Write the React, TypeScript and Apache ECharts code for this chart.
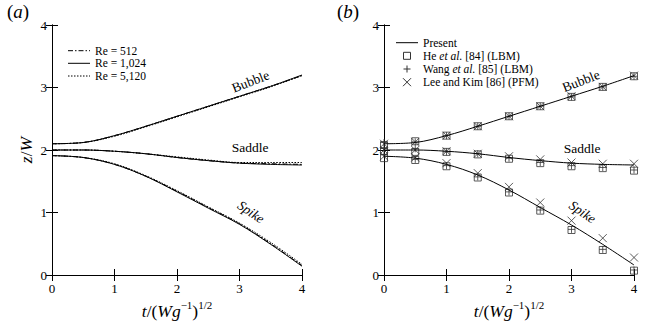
import React, { useEffect, useRef } from "react";
import * as echarts from "echarts";

const times = [0, 0.5, 1, 1.5, 2, 2.5, 3, 3.5, 4];
const xTicks = [0, 1, 2, 3, 4];

// Panel (a): three Reynolds numbers
const bubble512 = [2.1, 2.12, 2.23, 2.38, 2.54, 2.7, 2.86, 3.02, 3.19];
const bubble1024 = [2.1, 2.12, 2.23, 2.38, 2.54, 2.7, 2.86, 3.02, 3.2];
const bubble5120 = [2.1, 2.12, 2.22, 2.37, 2.53, 2.69, 2.85, 3.01, 3.19];
const saddle512 = [2.0, 2.0, 1.98, 1.94, 1.88, 1.83, 1.79, 1.78, 1.77];
const saddle1024 = [2.0, 2.0, 1.98, 1.94, 1.88, 1.83, 1.79, 1.77, 1.76];
const saddle5120 = [2.0, 2.0, 1.98, 1.94, 1.89, 1.84, 1.8, 1.8, 1.8];
const spike512 = [1.91, 1.88, 1.77, 1.58, 1.34, 1.08, 0.82, 0.5, 0.15];
const spike1024 = [1.91, 1.88, 1.77, 1.58, 1.33, 1.07, 0.81, 0.49, 0.14];
const spike5120 = [1.91, 1.88, 1.78, 1.59, 1.35, 1.09, 0.83, 0.52, 0.17];

// Panel (b): present vs literature
const presentBubble = [2.1, 2.12, 2.23, 2.38, 2.54, 2.7, 2.86, 3.02, 3.19];
const presentSaddle = [2.0, 2.0, 1.98, 1.94, 1.88, 1.83, 1.79, 1.77, 1.76];
const presentSpike = [1.9, 1.87, 1.77, 1.6, 1.36, 1.08, 0.8, 0.49, 0.16];

const heBubble = [2.08, 2.14, 2.23, 2.38, 2.54, 2.7, 2.85, 3.01, 3.18];
const heSaddle = [1.98, 1.97, 1.97, 1.93, 1.86, 1.79, 1.74, 1.71, 1.67];
const heSpike = [1.87, 1.84, 1.74, 1.56, 1.32, 1.03, 0.72, 0.4, 0.07];

const wangBubble = [2.12, 2.13, 2.23, 2.38, 2.54, 2.7, 2.85, 3.01, 3.18];
const wangSaddle = [2.03, 2.02, 1.97, 1.94, 1.87, 1.8, 1.75, 1.72, 1.68];
const wangSpike = [1.93, 1.85, 1.75, 1.57, 1.33, 1.04, 0.73, 0.41, 0.08];

const leeBubble = [2.1, 2.13, 2.23, 2.38, 2.54, 2.7, 2.86, 3.01, 3.19];
const leeSaddle = [2.0, 2.0, 1.98, 1.94, 1.9, 1.85, 1.8, 1.78, 1.78];
const leeSpike = [1.9, 1.88, 1.79, 1.63, 1.41, 1.16, 0.87, 0.59, 0.28];

const legendA = ["Re = 512", "Re = 1,024", "Re = 5,120"];
const legendB = ["Present", "He et al. [84] (LBM)", "Wang et al. [85] (LBM)", "Lee and Kim [86] (PFM)"];

const SERIF = "Liberation Serif";
const DASH_DOT = [5, 2, 1.5, 2];
const DOTTED = [1.5, 1.5];
const MARK = "#333";

const pairs = (ys: number[]) => times.map((t, i) => [t, ys[i]]);

export default function App() {
  const ref = useRef<HTMLDivElement>(null);
  useEffect(() => {
    if (!ref.current) return;
    const chart = echarts.init(ref.current, undefined, { renderer: "svg" });

    const rich = {
      i: { fontStyle: "italic", fontFamily: SERIF, fontSize: 17.5, color: "#000", lineHeight: 20, verticalAlign: "bottom" },
      n: { fontFamily: SERIF, fontSize: 17.5, color: "#000", lineHeight: 20, verticalAlign: "bottom" },
      sup: { fontFamily: SERIF, fontSize: 11, color: "#000", verticalAlign: "top", lineHeight: 11 },
    };
    const tickRich = { d: { fontFamily: SERIF, fontSize: 13, color: "#000" } };

    const mkX = (gridIndex: number, pos: "bottom" | "top", labels: boolean, name?: boolean) => ({
      type: "value",
      gridIndex,
      position: pos,
      min: 0,
      max: 4,
      interval: 1,
      axisLine: { show: true, lineStyle: { color: "#000", width: 1 } },
      axisTick: { show: true, inside: true, length: 6, lineStyle: { color: "#000" } },
      splitLine: { show: false },
      axisLabel: {
        show: labels,
        fontFamily: SERIF,
        fontSize: 13,
        color: "#000",
        margin: 7,
        rich: tickRich,
        formatter: (v: number) => (xTicks.includes(v) ? "{d|" + v + "}" : ""),
      },
      name: name ? "{i|t}{n|/(}{i|Wg}{sup|−1}{n|)}{sup|1/2}" : "",
      nameLocation: "middle",
      nameGap: 22,
      nameTextStyle: { rich },
    });
    const mkY = (gridIndex: number, pos: "left" | "right", labels: boolean, name?: boolean) => ({
      type: "value",
      gridIndex,
      position: pos,
      min: 0,
      max: 4,
      interval: 1,
      axisLine: { show: true, lineStyle: { color: "#000", width: 1 } },
      axisTick: { show: true, inside: true, length: 6, lineStyle: { color: "#000" } },
      splitLine: { show: false },
      axisLabel: {
        show: labels,
        fontFamily: SERIF,
        fontSize: 13,
        color: "#000",
        margin: 5,
        rich: tickRich,
        formatter: (v: number) => "{d|" + v + "}",
      },
      name: name ? "{i|z}{n|/}{i|W}" : "",
      nameLocation: "middle",
      nameGap: 17,
      nameTextStyle: { rich },
    });

    const lineSeries = (name: string, ys: number[], x: number, y: number, type: any) => ({
      type: "line",
      name,
      xAxisIndex: x,
      yAxisIndex: y,
      data: pairs(ys),
      smooth: 0.35,
      symbol: "none",
      lineStyle: { color: "#000", width: 1, type },
      itemStyle: { color: "#000" },
    });

    const markerStyle = { color: "rgba(0,0,0,0)", borderColor: MARK, borderWidth: 1 };
    const scatterSeries = (name: string, sets: number[][], symbol: string, size: number) => ({
      type: "scatter",
      name,
      xAxisIndex: 2,
      yAxisIndex: 2,
      symbol,
      symbolSize: size,
      itemStyle: markerStyle,
      data: sets.flatMap((ys) => pairs(ys)),
    });

    const labelText = (x: number, y: number, text: string, rotation: number, italic: boolean) => ({
      type: "text",
      x,
      y,
      rotation,
      style: {
        text: "{l|" + text + "}",
        fill: "#000",
        fontFamily: SERIF,
        fontSize: 13.5,
        align: "center",
        verticalAlign: "middle",
        rich: {
          l: { fontFamily: SERIF, fontSize: 13.5, fontStyle: italic ? "italic" : "normal", fill: "#000" },
        },
      },
    });

    const legText = (x: number, y: number, text: string) => ({
      type: "text",
      x,
      y,
      style: {
        text: text.replace("et al.", "{it|et al.}"),
        fill: "#000",
        fontFamily: SERIF,
        fontSize: 11.5,
        align: "left",
        verticalAlign: "middle",
        rich: { it: { fontFamily: SERIF, fontSize: 11.5, fontStyle: "italic", fill: "#000" } },
      },
    });
    const legLine = (x1: number, x2: number, y: number, dash: any) => ({
      type: "line",
      shape: { x1, y1: y, x2, y2: y },
      style: { stroke: "#000", lineWidth: 1, lineDash: dash },
    });

    const legendGraphics: any[] = [];
    const rowsA = [50.7, 63.3, 76];
    const dashes = [DASH_DOT, null, DOTTED];
    legendA.forEach((n, i) => {
      legendGraphics.push(legLine(68, 90, rowsA[i], dashes[i]));
      legendGraphics.push(legText(95, rowsA[i], n));
    });
    const rowsB = [42.7, 55.8, 69, 82.2];
    const cx = 407;
    legendGraphics.push(legLine(396, 418, rowsB[0], null));
    legendGraphics.push({
      type: "rect",
      shape: { x: cx - 3.5, y: rowsB[1] - 3.5, width: 7, height: 7 },
      style: { fill: "none", stroke: MARK, lineWidth: 1 },
    });
    legendGraphics.push({
      type: "line",
      shape: { x1: cx - 3.5, y1: rowsB[2], x2: cx + 3.5, y2: rowsB[2] },
      style: { stroke: MARK, lineWidth: 1 },
    });
    legendGraphics.push({
      type: "line",
      shape: { x1: cx, y1: rowsB[2] - 3.5, x2: cx, y2: rowsB[2] + 3.5 },
      style: { stroke: MARK, lineWidth: 1 },
    });
    legendGraphics.push({
      type: "line",
      shape: { x1: cx - 4, y1: rowsB[3] - 4, x2: cx + 4, y2: rowsB[3] + 4 },
      style: { stroke: MARK, lineWidth: 1 },
    });
    legendGraphics.push({
      type: "line",
      shape: { x1: cx + 4, y1: rowsB[3] - 4, x2: cx - 4, y2: rowsB[3] + 4 },
      style: { stroke: MARK, lineWidth: 1 },
    });
    legendB.forEach((n, i) => legendGraphics.push(legText(423, rowsB[i], n)));

    const panelLabel = (left: number, letter: string) => ({
      type: "text",
      left,
      top: 2,
      style: {
        text: "{p|(}{ai|" + letter + "}{p|)}",
        fill: "#000",
        fontFamily: SERIF,
        fontSize: 19,
        rich: {
          p: { fontFamily: SERIF, fontSize: 19, fill: "#000" },
          ai: { fontFamily: SERIF, fontSize: 19, fontStyle: "italic", fill: "#000" },
        },
      },
    });

    chart.setOption({
      animation: false,
      grid: [
        { left: 52, top: 25, width: 250, height: 250 },
        { left: 384, top: 25, width: 250, height: 250 },
      ],
      xAxis: [mkX(0, "bottom", true, true), mkX(0, "top", false), mkX(1, "bottom", true, true), mkX(1, "top", false)],
      yAxis: [mkY(0, "left", true, true), mkY(0, "right", false), mkY(1, "left", true), mkY(1, "right", false)],
      series: [
        lineSeries(legendA[0], bubble512, 0, 0, DASH_DOT),
        lineSeries(legendA[0], saddle512, 0, 0, DASH_DOT),
        lineSeries(legendA[0], spike512, 0, 0, DASH_DOT),
        lineSeries(legendA[1], bubble1024, 0, 0, "solid"),
        lineSeries(legendA[1], saddle1024, 0, 0, "solid"),
        lineSeries(legendA[1], spike1024, 0, 0, "solid"),
        lineSeries(legendA[2], bubble5120, 0, 0, DOTTED),
        lineSeries(legendA[2], saddle5120, 0, 0, DOTTED),
        lineSeries(legendA[2], spike5120, 0, 0, DOTTED),
        lineSeries(legendB[0], presentBubble, 2, 2, "solid"),
        lineSeries(legendB[0], presentSaddle, 2, 2, "solid"),
        lineSeries(legendB[0], presentSpike, 2, 2, "solid"),
        scatterSeries(legendB[1], [heBubble, heSaddle, heSpike], "rect", 7),
        scatterSeries(legendB[2], [wangBubble, wangSaddle, wangSpike], "path://M0,5L10,5M5,0L5,10", 7),
        scatterSeries(legendB[3], [leeBubble, leeSaddle, leeSpike], "path://M0,0L10,10M10,0L0,10", 8),
      ],
      graphic: [
        panelLabel(7, "a"),
        panelLabel(337, "b"),
        labelText(250.5, 81.5, "Bubble", 0.37, false),
        labelText(250, 147, "Saddle", 0, false),
        labelText(251, 212, "Spike", -0.6, true),
        labelText(581, 81, "Bubble", 0.37, false),
        labelText(582, 148, "Saddle", 0, false),
        labelText(582.5, 212, "Spike", -0.6, true),
        ...legendGraphics,
      ],
    });
    return () => chart.dispose();
  }, []);
  return (
    <div
      ref={ref}
      style={{ position: "fixed", left: 0, top: 0, width: 653, height: 326, background: "#fff" }}
    />
  );
}
